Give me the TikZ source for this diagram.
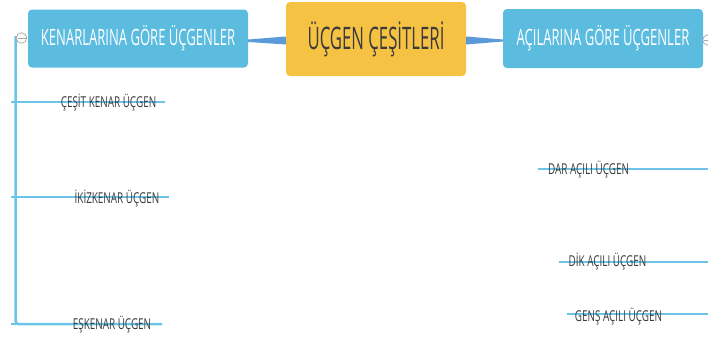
\documentclass[tikz,border=0pt]{standalone}
\usepackage{fontspec}
\setmainfont{Open Sans}
\newfontfamily\boxfont[FakeStretch=0.58]{Open Sans}
\newfontfamily\titlefont[FakeStretch=0.54]{Open Sans}
\newfontfamily\leaffont[FakeStretch=0.66]{Open Sans}
\definecolor{boxblue}{HTML}{5BBCE0}
\definecolor{boxorange}{HTML}{F5C244}
\definecolor{linkblue}{HTML}{5A9AD8}
\definecolor{branchblue}{HTML}{6CC5E9}
\definecolor{darktext}{HTML}{3A3A3A}
\tikzset{
	topic/.style={rounded corners=4pt, fill=boxblue, text=white, inner sep=0pt,
		font=\boxfont\fontsize{22.5}{26}\selectfont},
	main/.style={rounded corners=4pt, fill=boxorange, text=darktext, inner sep=0pt,
		font=\titlefont\fontsize{31}{36}\selectfont},
	leaf/.style={text=darktext, inner sep=0pt, font=\leaffont\fontsize{15}{17}\selectfont},
	branch/.style={draw=branchblue, line width=2.5pt},
	link/.style={fill=linkblue},
	fold/.style={circle, draw=gray!70, fill=white, minimum size=10.5pt, inner sep=0pt, line width=0.7pt,
		path picture={\draw[gray!70, line width=0.7pt] ([xshift=-4pt]path picture bounding box.center)
			-- ([xshift=4pt]path picture bounding box.center);}}
}

\begin{document}
\begin{tikzpicture}[x=1pt, y=-1pt]
	\useasboundingbox (0, 0) rectangle (708, 340);

	\coordinate (kt) at (15.5, 36);
	\coordinate (k1s) at (11, 102);   \coordinate (k1) at (165, 102);
	\coordinate (k2s) at (11, 197);   \coordinate (k2) at (169, 197);
	\coordinate (k3s) at (11, 324);   \coordinate (k3) at (162, 324);
	\coordinate (a1s) at (538, 169);  \coordinate (a1) at (710, 169);
	\coordinate (a2s) at (559, 262);  \coordinate (a2) at (710, 262);
	\coordinate (a3s) at (567, 314);  \coordinate (a3) at (710, 314);

	\draw[branch, rounded corners=3pt] (kt) |- (k3);
	\draw[branch] (k1s) -- (k1);
	\draw[branch] (k2s) -- (k2);
	\draw[branch] (k3s) -- (k3);
	\draw[branch] (a1s) -- (a1);
	\draw[branch] (a2s) -- (a2);
	\draw[branch] (a3s) -- (a3);

	\node[topic, minimum width=220pt, minimum height=58pt] (K) at (138, 38.5) {KENARLARINA GÖRE ÜÇGENLER};
	\node[main,  minimum width=180pt, minimum height=74pt] (U) at (376, 39)   {ÜÇGEN ÇEŞİTLERİ};
	\node[topic, minimum width=200pt, minimum height=59pt] (A) at (603, 38.5) {AÇILARINA GÖRE ÜÇGENLER};

	\fill[link] ([yshift=-1pt]K.east) -- ([yshift=2.5pt]U.west) -- ([yshift=-5.5pt]U.west) -- ([yshift=-3.5pt]K.east) -- cycle;
	\fill[link] ([yshift=2.5pt]U.east) -- ([yshift=-1pt]A.west) -- ([yshift=-3pt]A.west) -- ([yshift=-5.5pt]U.east) -- cycle;

	\node[fold] (kf) at (21.5, 38) {};
	\node[fold] (af) at (708, 40)  {};

	\node[leaf] (L1) at (108.5, 103) {ÇEŞİT KENAR ÜÇGEN};
	\node[leaf] (L2) at (117, 198.5) {İKİZKENAR ÜÇGEN};
	\node[leaf] (L3) at (112, 325)   {EŞKENAR ÜÇGEN};
	\node[leaf] (R1) at (588.5, 170) {DAR AÇILI ÜÇGEN};
	\node[leaf] (R2) at (607.5, 262) {DİK AÇILI ÜÇGEN};
	\node[leaf] (R3) at (618.5, 316.5) {GENŞ AÇILI ÜÇGEN};
\end{tikzpicture}
\end{document}
